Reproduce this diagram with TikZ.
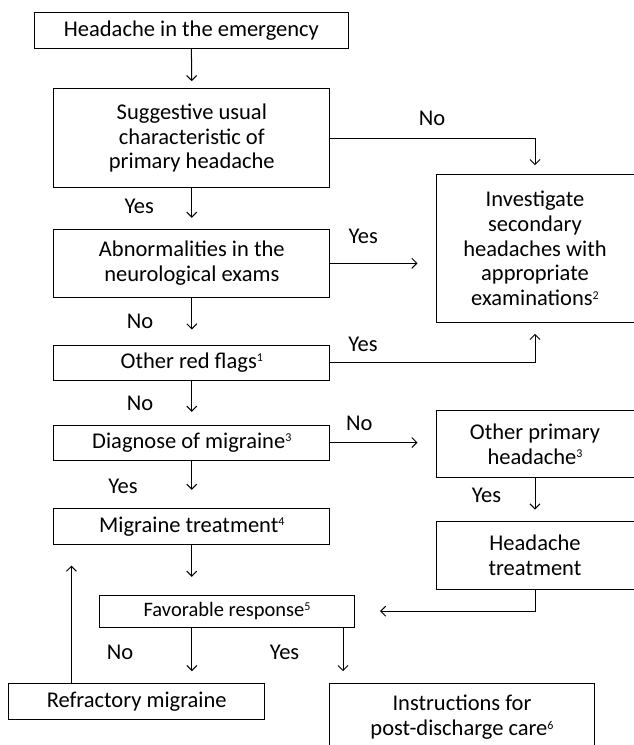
\documentclass[tikz,border=0pt]{standalone}
\usepackage{fontspec}
\setmainfont{Carlito}
\usetikzlibrary{arrows.meta}
\newcommand\fnote[1]{\raisebox{6.5pt}{\fontsize{12}{12}\selectfont #1}}
\tikzset{
  box/.style={draw, line width=1pt, inner sep=0pt, align=center,
    font=\fontsize{22.5}{24.7}\selectfont},
  lbl/.style={inner sep=0pt, font=\fontsize{22.5}{24.7}\selectfont},
  flow/.style={line width=1pt, -{Straight Barb[length=5pt,width=10pt]}},
}
\begin{document}
\begin{tikzpicture}[x=1pt, y=-1pt]
    \useasboundingbox (0,0) rectangle (633,745);
    % left column
    \node[box, minimum width=314pt, minimum height=35.6pt] (head) at (191.4,30.5) {Headache in the emergency};
    \node[box, minimum width=276pt, minimum height=98.6pt] (sugg) at (191.8,138) {Suggestive usual\\characteristic of\\primary headache};
    \node[box, minimum width=276pt, minimum height=68pt] (abno) at (191.8,263.3) {Abnormalities in the\\neurological exams};
    \node[box, minimum width=276pt, minimum height=35pt] (flag) at (191.8,362.5) {Other red flags\fnote{1}};
    \node[box, minimum width=276pt, minimum height=35pt] (diag) at (191.8,442.5) {Diagnose of migraine\fnote{3}};
    \node[box, minimum width=276pt, minimum height=35.7pt] (mtreat) at (191.8,526.2) {Migraine treatment\fnote{4}};
    \node[box, minimum width=255pt, minimum height=32.3pt, font=\fontsize{20.5}{23}\selectfont] (resp) at (227,611.2) {Favorable response\fnote{5}};
    \node[box, minimum width=255.5pt, minimum height=36pt] (refr) at (136.7,701.3) {Refractory migraine};
    \node[box, minimum width=264.5pt, minimum height=68pt] (instr) at (462,717.3) {Instructions for\\post-discharge care\fnote{6}};
    % right column
    \node[box, minimum width=198pt, minimum height=148.4pt] (invest) at (535,248.5) {Investigate\\secondary\\headaches with\\appropriate\\examinations\fnote{2}};
    \node[box, minimum width=198pt, minimum height=67pt] (oprim) at (535,444.2) {Other primary\\headache\fnote{3}};
    \node[box, minimum width=198pt, minimum height=67.6pt] (htreat) at (535,555.5) {Headache\\treatment};
    % labels
    \foreach \n/\x/\y/\t in {l1/432/118.3/No, l2/139.3/206.7/Yes, l3/363.3/236.7/Yes, l4/140/321/No,
      l5/363/344/Yes, l6/140/403.3/No, l7/359.3/423.3/No, l8/123/486.7/Yes, l9/486.5/495/Yes,
      l10/120/652.7/No, l11/284.6/652.7/Yes}
      \node[lbl] (\n) at (\x,\y) {\t};
    % connectors
    \draw[flow, shorten >=7pt] (head.south) -- (sugg.north);
    \draw[flow, shorten >=11pt] (sugg.south) -- (abno.north);
    \draw[flow, shorten >=15pt] (abno.south) -- (flag.north);
    \draw[flow, shorten >=12.7pt] (flag.south) -- (diag.north);
    \draw[flow, shorten >=18pt] (diag.south) -- (mtreat.north);
    \draw[flow, shorten >=17.7pt] (mtreat.south) -- (mtreat.south |- resp.north);
    \draw[flow, shorten >=11.6pt] (resp.south -| mtreat.south) -- (refr.north -| mtreat.south);
    \draw[flow, shorten >=11.6pt] ([xshift=-12pt]resp.south east) -- ([xshift=-12pt]resp.south east |- instr.north);
    \draw[flow, shorten >=21pt] ([xshift=63pt]refr.north west) -- ([xshift=63pt]refr.north west |- mtreat.south);
    \draw[flow, shorten >=8.6pt] (sugg.east) -| (invest.north);
    \draw[flow, shorten >=18pt] (abno.east) -- (invest.west |- abno.east);
    \draw[flow, shorten >=10.6pt] (flag.east) -| (invest.south);
    \draw[flow, shorten >=18pt] (diag.east) -- (oprim.west |- diag.east);
    \draw[flow, shorten >=11.7pt] (oprim.south) -- (htreat.north);
    \draw[flow, shorten >=25pt] (htreat.south) |- (resp.east);
\end{tikzpicture}
\end{document}
